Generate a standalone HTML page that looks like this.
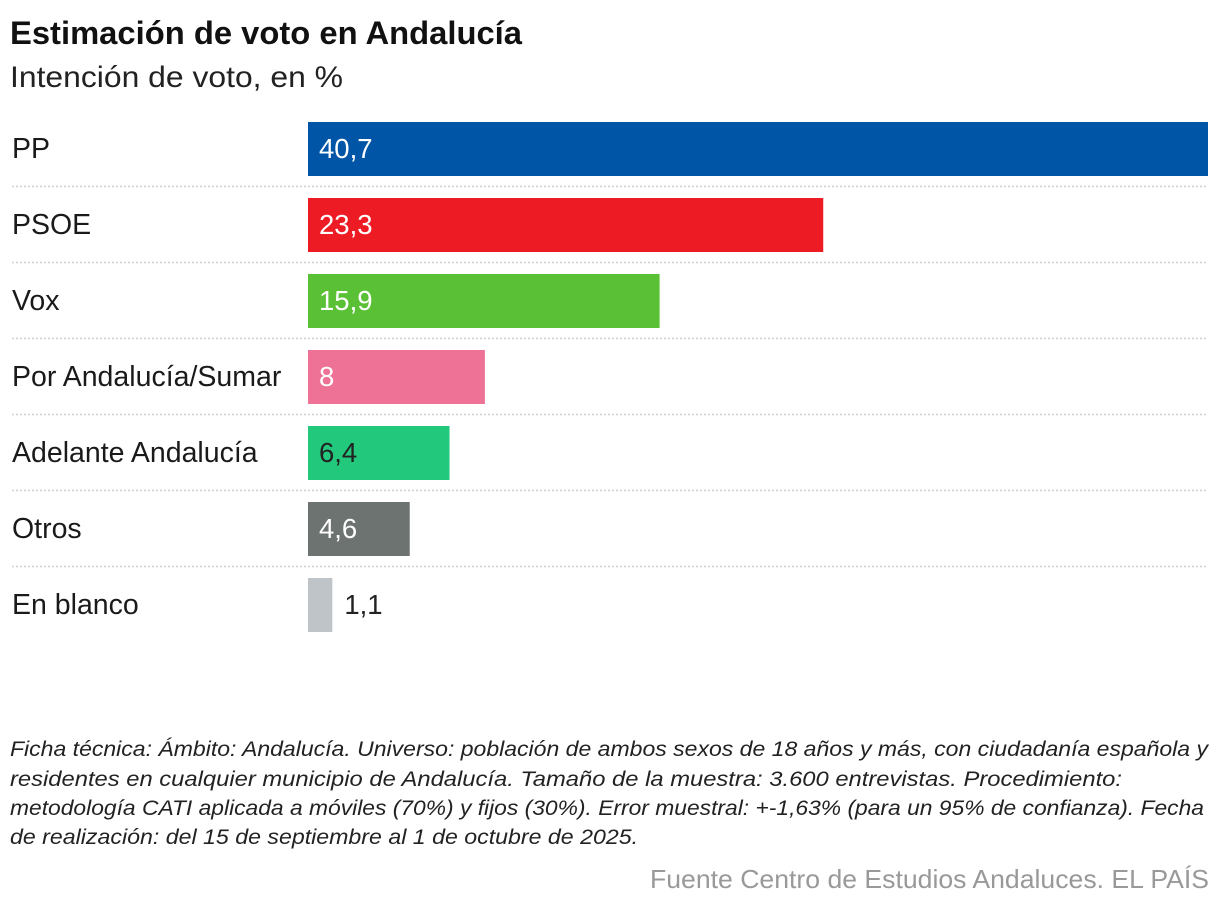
<!DOCTYPE html>
<html><head><meta charset="utf-8"><style>
body{margin:0;background:#fff;width:1220px;height:908px;overflow:hidden;font-family:"Liberation Sans",sans-serif;}
</style></head><body>
<svg width="1220" height="908">
<text x="10" y="44" font-size="32" font-weight="bold" fill="#111" textLength="512" lengthAdjust="spacingAndGlyphs">Estimación de voto en Andalucía</text>
<text x="10" y="87" font-size="30" fill="#222" textLength="333" lengthAdjust="spacingAndGlyphs">Intención de voto, en %</text>
<g id="bars"></g>
<g font-size="21" font-style="italic" fill="#222">
<text x="10" y="756" textLength="1198" lengthAdjust="spacingAndGlyphs">Ficha técnica: Ámbito: Andalucía. Universo: población de ambos sexos de 18 años y más, con ciudadanía española y</text>
<text x="10" y="786" textLength="1112" lengthAdjust="spacingAndGlyphs">residentes en cualquier municipio de Andalucía. Tamaño de la muestra: 3.600 entrevistas. Procedimiento:</text>
<text x="10" y="815" textLength="1194" lengthAdjust="spacingAndGlyphs">metodología CATI aplicada a móviles (70%) y fijos (30%). Error muestral: +-1,63% (para un 95% de confianza). Fecha</text>
<text x="10" y="844" textLength="628" lengthAdjust="spacingAndGlyphs">de realización: del 15 de septiembre al 1 de octubre de 2025.</text>
</g>
<text x="1209" y="888" text-anchor="end" font-size="26" fill="#999" textLength="559" lengthAdjust="spacingAndGlyphs">Fuente Centro de Estudios Andaluces. EL PAÍS</text>
</svg>
<script>
const categories=["PP","PSOE","Vox","Por Andalucía/Sumar","Adelante Andalucía","Otros","En blanco"];
const values=[40.7,23.3,15.9,8,6.4,4.6,1.1];
const labels=["40,7","23,3","15,9","8","6,4","4,6","1,1"];
const colors=["#0055a6","#ed1c24","#5ac036","#ee7295","#22c97d","#6c7370","#bfc4c8"];
const textColors=["#fff","#fff","#fff","#fff","#222","#fff","#222"];
const NS="http://www.w3.org/2000/svg";
const g=document.getElementById('bars');
const x0=308,xMax=1208,vMax=40.7;
const xs=v=>(v/vMax)*(xMax-x0);
const rowY=i=>122+i*76;
function mk(t,a){const e=document.createElementNS(NS,t);for(const k in a)e.setAttribute(k,a[k]);g.appendChild(e);return e;}
categories.forEach((c,i)=>{
 const y=rowY(i),w=xs(values[i]);
 const lab=mk('text',{x:12,y:y+36,'font-size':28.5,fill:'#1a1a1a'});lab.textContent=c;
 
 
 const r=mk('rect',{x:x0,y:y,width:w,height:54,fill:colors[i]});
 
 
 const inside=w>60;
 const t=mk('text',{x:inside?x0+11:x0+w+12,y:y+36,'font-size':27.5,fill:inside?textColors[i]:'#222'});
 t.textContent=labels[i];
 
 
 if(i<categories.length-1){
  const l=mk('line',{x1:12,x2:1208,y1:y+64.5,y2:y+64.5,stroke:'#d0d0d0','stroke-width':1.5,'stroke-dasharray':'2 2'});
  
  
 }
});
</script>
</body></html>
